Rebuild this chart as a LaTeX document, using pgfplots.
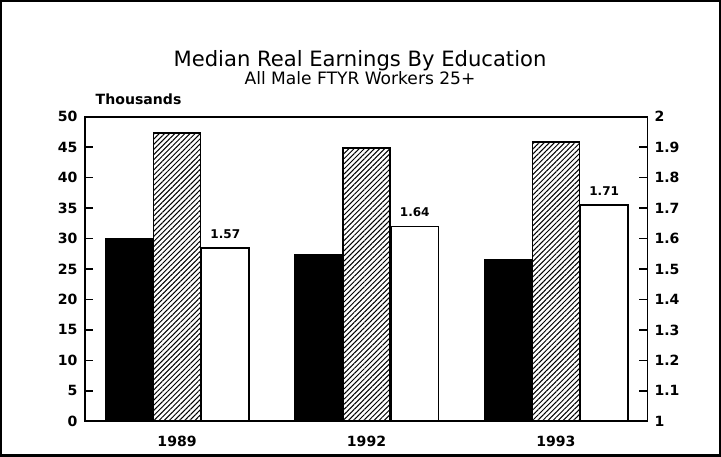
\documentclass[border=0pt]{standalone}
\usepackage{fontspec}
\setmainfont{DejaVu Sans}
\usepackage{pgfplots}
\pgfplotsset{compat=1.18}
\usetikzlibrary{patterns.meta}

\begin{document}
\begin{tikzpicture}
\pgfplotsset{
  every axis/.append style={
    scale only axis, width=280pt, height=151.5pt,
    xmin=-0.488, xmax=2.483,
    /pgf/number format/assume math mode=true,
    tick label style={font=\bfseries\fontsize{7}{8}\selectfont},
    tick align=inside, major tick length=4pt,
    axis line style={line width=0.9pt},
    tick style={line width=0.8pt, black},
    ybar, bar width=23.5pt,
  }
}
\begin{axis}[
  name=main,
  ymin=0, ymax=50, ytick={0,5,...,50},
  ytick pos=left,
  xtick={0,1,2}, xticklabels={1989,1992,1993},
  xtick style={draw=none},
]
\addplot[fill=black, draw=black, bar shift=-24pt]
  coordinates {(0,30.0) (1,27.4) (2,26.6)};
\addplot[draw=black, line width=0.8pt, bar shift=0pt,
  pattern={Lines[angle=45,distance=1.8pt,line width=0.5pt]}]
  coordinates {(0,47.3) (1,44.9) (2,45.9)};
\end{axis}
\begin{axis}[
  ymin=1, ymax=2,
  ytick={1,1.1,1.2,1.3,1.4,1.5,1.6,1.7,1.8,1.9,2},
  yticklabel style={/pgf/number format/fixed},
  axis x line=none, axis y line*=right,
]
\addplot[fill=white, draw=black, line width=0.8pt, bar shift=24pt,
  nodes near coords,
  every node near coord/.append style={font=\bfseries\fontsize{6}{7}\selectfont, anchor=south, yshift=1pt},
  /pgf/number format/fixed, /pgf/number format/precision=2]
  coordinates {(0,1.57) (1,1.64) (2,1.71)};
\end{axis}
\node[anchor=base west, font=\bfseries\fontsize{7}{8}\selectfont]
  at ([shift={(2pt,6pt)}]main.north west) {Thousands};
\node[font=\fontsize{10.5}{12}\selectfont]
  at ([shift={(-3pt,28pt)}]main.north) {Median Real Earnings By Education};
\node[font=\fontsize{8.5}{10}\selectfont]
  at ([shift={(-3pt,19pt)}]main.north) {All Male FTYR Workers 25+};
\draw[line width=1.2pt] ([shift={(-41.5pt,-17pt)}]main.south west)
  rectangle ([shift={(36pt,57.5pt)}]main.north east);
\end{tikzpicture}
\end{document}
